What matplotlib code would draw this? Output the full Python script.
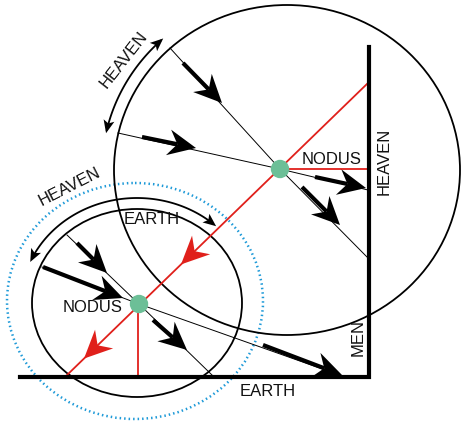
import numpy as np
import matplotlib.pyplot as plt
from matplotlib.patches import Ellipse, Polygon

# geometry of the diagram, in picture pixels (y grows downwards)
big_circle = (287, 170, 173, 165)      # cx, cy, rx, ry
small_circle = (137, 303, 105, 94)
blue_circle = (135, 301, 128, 118)
nodus_big = (280, 169)
nodus_small = (139, 304)

# wall (MEN / HEAVEN) and floor (EARTH)
wall_x, wall_top, floor_y, floor_left = 369, 47, 377, 20

# rays: start, end, list of (shaft start, arrow tip)
rays = [
    ((170, 48), nodus_big, (367, 257), [((183, 63), (222, 103)), ((302, 187), (340, 225))]),
    ((118, 133), nodus_big, (368, 190), [((142, 137), (196, 148)), ((315, 177), (366, 188))]),
    ((67, 235), nodus_small, (212, 375), [((77, 243), (107, 273)), ((153, 320), (187, 350))]),
    ((42, 267), nodus_small, (345, 377), [((43, 267), (123, 298)), ((263, 345), (342, 375))]),
]

# red line and its arrows
red_start, red_end = (369, 82), (65, 377)
red_tips = [181, 84]   # x positions of the red arrow tips

# curved double arrows: ellipse (cx, cy, rx, ry), angle range in degrees
arcs = [((287, 170, 185, 177), -168, -132), ((137, 303, 116, 105), -157, -47)]

labels = [
    ("HEAVEN", 124, 60, 52), ("HEAVEN", 70, 187, 27), ("EARTH", 152, 219, 0),
    ("NODUS", 332, 160, 0), ("NODUS", 93, 308, 0), ("HEAVEN", 384, 161, 90),
    ("MEN", 358, 337, 90), ("EARTH", 268, 391, 0),
]

green = '#6cbf97'
red = '#e0201b'
blue = '#1e9ad8'


def head(ax, tip, d, L, W, notch, color):
    d = np.asarray(d, float)
    d = d / np.hypot(*d)
    p = np.array([-d[1], d[0]])
    tip = np.asarray(tip, float)
    pts = [tip, tip - L * d + W * p, tip - (L - notch) * d, tip - L * d - W * p]
    ax.add_patch(Polygon(pts, closed=True, color=color, lw=0, zorder=5))
    return tip - (L - notch) * d


fig = plt.figure(figsize=(4.62, 4.21), dpi=100)
ax = fig.add_axes([0, 0, 1, 1])
ax.set_xlim(0, 462)
ax.set_ylim(421, 0)
ax.axis('off')

for cx, cy, rx, ry in [big_circle, small_circle]:
    ax.add_patch(Ellipse((cx, cy), 2 * rx, 2 * ry, fill=False, ec='black', lw=1.3, zorder=2))
cx, cy, rx, ry = blue_circle
ax.add_patch(Ellipse((cx, cy), 2 * rx, 2 * ry, fill=False, ec=blue, lw=1.8,
                     ls=(0, (0.6, 1.2)), zorder=1))

# thin rays with thick shafts and heads
for start, mid, end, arrows in rays:
    ax.plot([start[0], mid[0], end[0]], [start[1], mid[1], end[1]], color='black', lw=0.7, zorder=3)
    for s, t in arrows:
        d = (t[0] - s[0], t[1] - s[1])
        base = head(ax, t, d, 28, 13, 9, 'black')
        ax.plot([s[0], base[0]], [s[1], base[1]], color='black', lw=3, solid_capstyle='butt', zorder=4)

# red construction lines
ax.plot([red_start[0], red_end[0]], [red_start[1], red_end[1]], color=red, lw=1.3, zorder=3)
ax.plot([nodus_big[0], wall_x], [nodus_big[1], nodus_big[1]], color=red, lw=1.3, zorder=3)
ax.plot([nodus_small[0] - 1, nodus_small[0] - 1], [nodus_small[1], floor_y], color=red, lw=1.3, zorder=3)
slope = (red_end[1] - red_start[1]) / (red_end[0] - red_start[0])
for tx in red_tips:
    ty = red_start[1] + slope * (tx - red_start[0])
    head(ax, (tx, ty), (red_end[0] - red_start[0], red_end[1] - red_start[1]), 28, 13, 9, red)

# wall and floor
ax.plot([wall_x, wall_x, floor_left], [wall_top, floor_y, floor_y], color='black', lw=3,
        solid_joinstyle='miter', zorder=4)

# curved double arrows
for (ecx, ecy, erx, ery), a1, a2 in arcs:
    t = np.radians(np.linspace(a1, a2, 100))
    x = ecx + erx * np.cos(t)
    y = ecy + ery * np.sin(t)
    ax.plot(x[3:-3], y[3:-3], color='black', lw=1.3, zorder=3)
    head(ax, (x[0], y[0]), (x[0] - x[3], y[0] - y[3]), 13, 5.5, 3, 'black')
    head(ax, (x[-1], y[-1]), (x[-1] - x[-4], y[-1] - y[-4]), 13, 5.5, 3, 'black')

for n in [nodus_big, nodus_small]:
    ax.add_patch(Ellipse(n, 17, 17, color=green, zorder=6))

for txt, x, y, rot in labels:
    ax.text(x, y, txt, rotation=rot, ha='center', va='center', fontsize=12,
            family='Liberation Sans', color='#111111', rotation_mode='anchor', zorder=7)

fig.savefig('out.png', dpi=100)
